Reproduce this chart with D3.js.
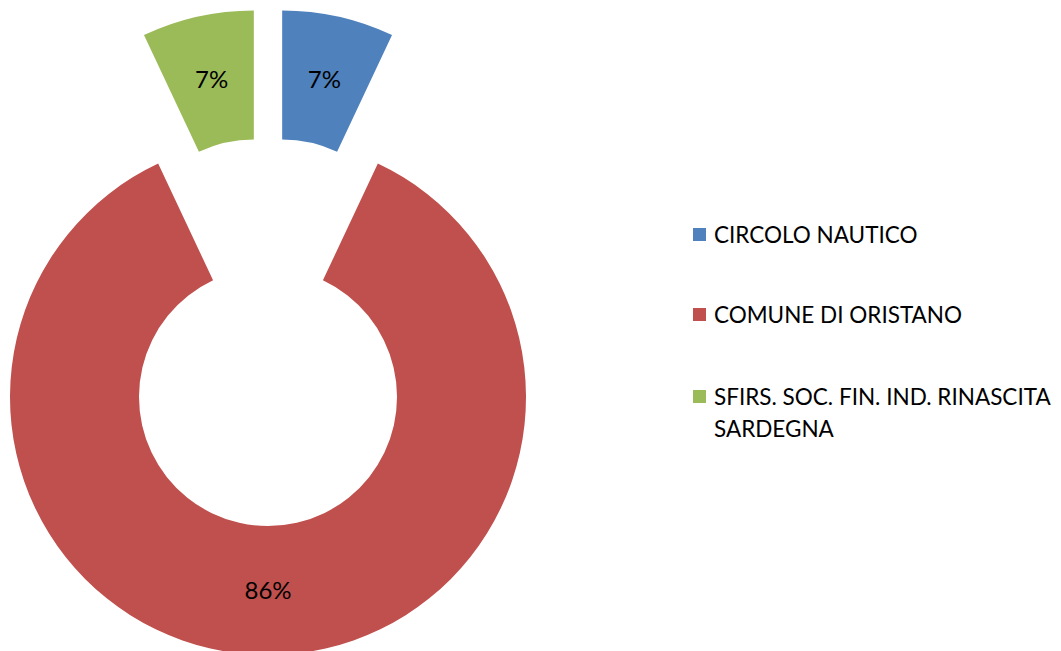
<!DOCTYPE html>
<html><head><meta charset="utf-8">
<script src="https://cdn.jsdelivr.net/npm/d3@7"></script>
<style>body{margin:0;background:#fff}svg{display:block}</style>
</head><body>
<svg id="chart" width="1061" height="651"></svg>
<script>
const categories = ["CIRCOLO NAUTICO", "COMUNE DI ORISTANO", "SFIRS. SOC. FIN. IND. RINASCITA SARDEGNA"];
const values = [7, 86, 7];
const colors = ["#4F81BD", "#C0504D", "#9BBB59"];
const legendLines = [["CIRCOLO NAUTICO"], ["COMUNE DI ORISTANO"], ["SFIRS. SOC. FIN. IND. RINASCITA", "SARDEGNA"]];

const svg = d3.select("#chart");
const cx = 268, cy = 332, R = 258, r0 = 129, explode = 65;
const pie = d3.pie().sort(null).value(d => d)(values);
const arc = d3.arc().innerRadius(r0).outerRadius(R);
const total = d3.sum(values);
const g = svg.append("g").attr("transform", `translate(${cx},${cy})`);
const slices = g.selectAll("g.s").data(pie).join("g")
  .attr("transform", d => {
    const a = (d.startAngle + d.endAngle) / 2;
    return `translate(${explode * Math.sin(a)},${-explode * Math.cos(a)})`;
  });
slices.append("path").attr("d", arc).attr("fill", (d, i) => colors[i]);
slices.append("text")
  .attr("transform", d => `translate(${arc.centroid(d)})`)
  .attr("text-anchor", "middle").attr("dy", "0.36em")
  .attr("font-family", "Lato, 'Open Sans', sans-serif").attr("font-size", 24)
  .attr("fill", "#000")
  .text(d => Math.round(d.value / total * 100) + "%");

const legendY = [235, 315, 397];
const lg = svg.append("g");
legendLines.forEach((lines, i) => {
  lg.append("rect").attr("x", 693).attr("y", legendY[i] - 7).attr("width", 13).attr("height", 13).attr("fill", colors[i]);
  lines.forEach((t, j) => {
    lg.append("text").attr("x", 714).attr("y", legendY[i] + j * 32).attr("dy", "0.35em")
      .attr("font-family", "Lato, 'Open Sans', sans-serif").attr("font-size", 22.5)
      .attr("fill", "#000").text(t);
  });
});
</script>
</body></html>
